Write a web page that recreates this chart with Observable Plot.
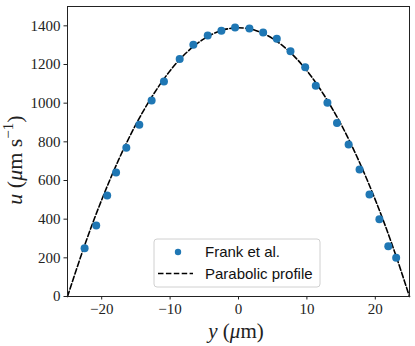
<!DOCTYPE html>
<html>
<head>
<meta charset="utf-8">
<script src="https://cdn.jsdelivr.net/npm/d3@7"></script>
<script src="https://cdn.jsdelivr.net/npm/@observablehq/plot@0.6"></script>
<style>
  html, body { margin: 0; padding: 0; background: #fff; }
</style>
</head>
<body>
<div id="chart"></div>
<script>
// Measured points (Frank et al.)
const frankY = [-22.5, -20.8, -19.2, -17.9, -16.4, -14.5, -12.7, -10.9, -8.6, -6.6, -4.5, -2.5, -0.5, 1.6, 3.6, 5.6, 7.6, 9.75, 11.3, 13.0, 14.4, 16.1, 17.7, 19.15, 20.6, 21.9, 23.05];
const frankU = [250, 367, 522, 641, 769, 888, 1014, 1112, 1228, 1302, 1350, 1375, 1392, 1386, 1366, 1333, 1269, 1186, 1090, 1002, 897, 786, 657, 528, 400, 260, 200];

// Parabolic profile
const profileY = [-25, -22.5, -20, -17.5, -15, -12.5, -10, -7.5, -5, -2.5, 0, 2.5, 5, 7.5, 10, 12.5, 15, 17.5, 20, 22.5, 25];
const profileU = [0, 264, 500, 709, 890, 1042, 1168, 1265, 1334, 1376, 1390, 1376, 1334, 1265, 1168, 1042, 890, 709, 500, 264, 0];

const xTicks = [-20, -10, 0, 10, 20];
const yTicks = [0, 200, 400, 600, 800, 1000, 1200, 1400];

const frank = frankY.map((y, i) => ({y, u: frankU[i]}));
const profile = profileY.map((y, i) => ({y, u: profileU[i]}));

const fmt = d => d < 0 ? "\u2212" + (-d) : String(d);

const W = 415, H = 346;
const mL = 67, mR = 6, mT = 6, mB = 50;

const chart = Plot.plot({
  width: W, height: H,
  marginLeft: mL, marginRight: mR, marginTop: mT, marginBottom: mB,
  style: {fontFamily: "'Liberation Serif', serif", fontSize: "15px", color: "#222", background: "#fff"},
  x: {domain: [-25, 25], label: null},
  y: {domain: [0, 1500], label: null},
  marks: [
    Plot.line(profile, {x: "y", y: "u", curve: "natural", stroke: "#000", strokeWidth: 1.6, strokeDasharray: "5.5,2.4"}),
    Plot.dot(frank, {x: "y", y: "u", r: 4, fill: "#1f77b4", stroke: "none"}),
    Plot.frame({stroke: "#222", strokeWidth: 1}),
    Plot.axisX({ticks: xTicks, tickFormat: fmt, tickSize: 3.5, tickPadding: 3, stroke: "#222", label: null}),
    Plot.axisY({ticks: yTicks, tickFormat: fmt, tickSize: 3.5, tickPadding: 3.5, stroke: "#222", label: null})
  ]
});

document.getElementById("chart").appendChild(chart);

const svg = d3.select(chart);
const plotCx = mL + (W - mL - mR) / 2;

// X axis label: y (μm)
const xl = svg.append("text")
  .attr("x", plotCx - 2).attr("y", 337.5)
  .attr("text-anchor", "middle")
  .attr("font-family", "'Liberation Serif', serif")
  .attr("font-size", 21).attr("fill", "#222");
xl.append("tspan").attr("font-style", "italic").text("y");
xl.append("tspan").text(" (");
xl.append("tspan").attr("font-style", "italic").text("μ");
xl.append("tspan").text("m)");

// Y axis label: u (μm s^-1)
const yl = svg.append("text")
  .attr("transform", `translate(22,160) rotate(-90)`)
  .attr("text-anchor", "middle")
  .attr("font-family", "'Liberation Serif', serif")
  .attr("font-size", 22).attr("fill", "#222");
yl.append("tspan").attr("font-style", "italic").text("u");
yl.append("tspan").text(" (");
yl.append("tspan").attr("font-style", "italic").text("μ");
yl.append("tspan").text("m s");
yl.append("tspan").attr("font-size", 15).attr("dy", -9).text("−1");
yl.append("tspan").attr("dy", 9).text(")");

// Legend
const lg = svg.append("g")
  .attr("font-family", "'Liberation Sans', Arial, sans-serif")
  .attr("font-size", 15).attr("fill", "#111").attr("text-anchor", "start");
lg.append("rect").attr("x", 154).attr("y", 239).attr("width", 166).attr("height", 48)
  .attr("rx", 3).attr("fill", "#fff").attr("fill-opacity", 0.8).attr("stroke", "#d0d0d0");
lg.append("circle").attr("cx", 178).attr("cy", 252).attr("r", 3.2).attr("fill", "#1f77b4");
lg.append("line").attr("x1", 158).attr("x2", 193).attr("y1", 273.5).attr("y2", 273.5)
  .attr("stroke", "#000").attr("stroke-width", 1.6).attr("stroke-dasharray", "5.5,2.4");
lg.append("text").attr("x", 205).attr("y", 257).attr("text-anchor", "start").text("Frank et al.");
lg.append("text").attr("x", 205).attr("y", 278.5).attr("text-anchor", "start").text("Parabolic profile");
</script>
</body>
</html>
